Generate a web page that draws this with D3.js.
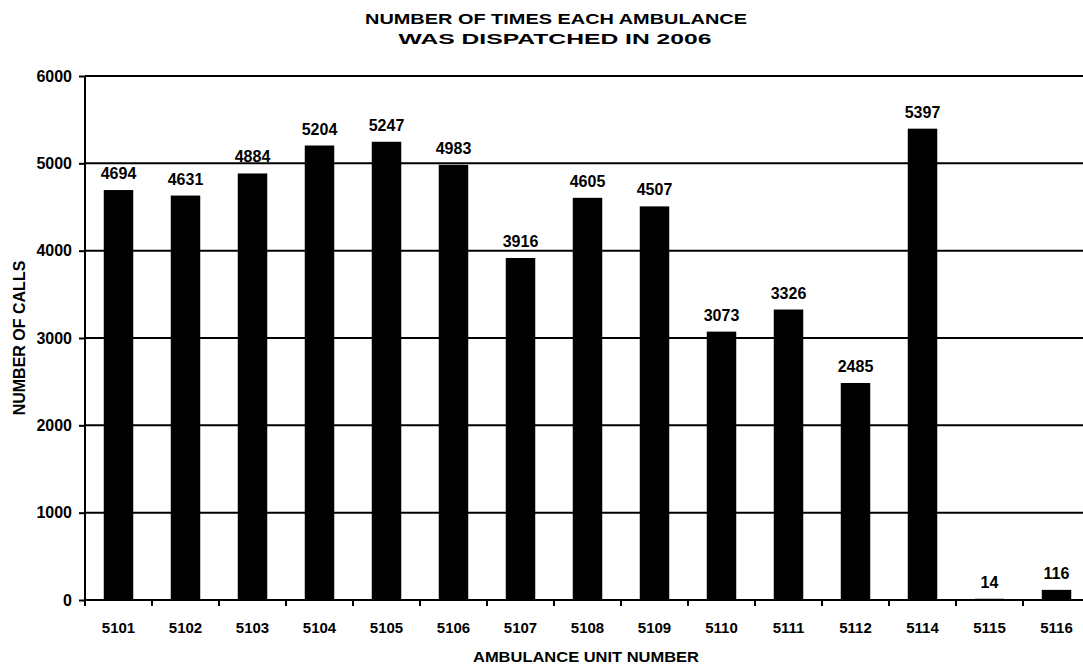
<!DOCTYPE html>
<html>
<head>
<meta charset="utf-8">
<script src="https://cdn.jsdelivr.net/npm/d3@7/dist/d3.min.js"></script>
<style>
  html, body { margin: 0; padding: 0; background: #fff; }
  svg { display: block; }
  text { font-family: "Liberation Sans", Arial, sans-serif; font-weight: bold; fill: #000; }
</style>
</head>
<body>
<svg id="chart" width="1083" height="666"></svg>
<script>
// Ambulance units and dispatch counts for 2006
const units = ["5101","5102","5103","5104","5105","5106","5107","5108","5109","5110","5111","5112","5114","5115","5116"];
const calls = [4694, 4631, 4884, 5204, 5247, 4983, 3916, 4605, 4507, 3073, 3326, 2485, 5397, 14, 116];
const yTicks = [0, 1000, 2000, 3000, 4000, 5000, 6000];

const svg = d3.select("#chart");
const plotLeft = 85, plotTop = 76, plotBottom = 600, plotRight = 1090;

const x = d3.scaleBand().domain(units).range([plotLeft, plotRight]).paddingInner(0.56).paddingOuter(0.28);
const y = d3.scaleLinear().domain([0, 6000]).range([plotBottom, plotTop]);

// Horizontal gridlines
svg.append("g").selectAll("line").data(yTicks.filter(d => d > 0)).join("line")
  .attr("x1", plotLeft).attr("x2", 1083)
  .attr("y1", d => y(d)).attr("y2", d => y(d))
  .attr("stroke", "#000").attr("stroke-width", 2);

// Bars
svg.append("g").selectAll("rect").data(units).join("rect")
  .attr("x", d => x(d))
  .attr("width", x.bandwidth())
  .attr("y", (d, i) => y(calls[i]))
  .attr("height", (d, i) => Math.max(plotBottom - y(calls[i]), 1.5))
  .attr("fill", "#000");

// Value labels
svg.append("g").selectAll("text").data(units).join("text")
  .attr("x", d => x(d) + x.bandwidth() / 2)
  .attr("y", (d, i) => y(calls[i]) - 11)
  .attr("text-anchor", "middle")
  .attr("font-size", 16)
  .text((d, i) => calls[i]);

// Y axis
const yAxis = d3.axisLeft(y).tickValues(yTicks).tickSize(6).tickPadding(7).tickFormat(d3.format("d"));
const gy = svg.append("g").attr("transform", `translate(${plotLeft},0)`).call(yAxis);
gy.select(".domain").attr("stroke", "#000").attr("stroke-width", 2).attr("d", `M0,${plotTop}V${plotBottom}`);
gy.selectAll(".tick line").attr("stroke", "#000").attr("stroke-width", 2);
gy.selectAll(".tick text").attr("font-size", 16)
  .style("font-family", "'Liberation Sans', Arial, sans-serif").style("font-weight", "bold").style("fill", "#000");

// X axis: tick marks at band boundaries
const gx = svg.append("g").attr("transform", `translate(0,${plotBottom})`);
gx.append("line").attr("x1", plotLeft).attr("x2", 1083).attr("y1", 0).attr("y2", 0)
  .attr("stroke", "#000").attr("stroke-width", 2);
const offset = x.paddingOuter() * x.step();
gx.selectAll("line.tk").data(units).join("line").attr("class", "tk")
  .attr("x1", d => x(d) - offset)
  .attr("x2", d => x(d) - offset)
  .attr("y1", 0).attr("y2", 6)
  .attr("stroke", "#000").attr("stroke-width", 2);
gx.selectAll("text").data(units).join("text")
  .attr("x", d => x(d) + x.bandwidth() / 2)
  .attr("y", 33)
  .attr("text-anchor", "middle")
  .attr("font-size", 15)
  .text(d => d);

// Titles
svg.append("text").attr("x", 556).attr("y", 24).attr("text-anchor", "middle").attr("font-size", 15.5)
  .attr("textLength", 382).attr("lengthAdjust", "spacingAndGlyphs")
  .text("NUMBER OF TIMES EACH AMBULANCE");
svg.append("text").attr("x", 555).attr("y", 44).attr("text-anchor", "middle").attr("font-size", 15.5)
  .attr("textLength", 313).attr("lengthAdjust", "spacingAndGlyphs")
  .text("WAS DISPATCHED IN 2006");
svg.append("text").attr("x", 586).attr("y", 662).attr("text-anchor", "middle").attr("font-size", 15.5)
  .attr("textLength", 226).attr("lengthAdjust", "spacingAndGlyphs")
  .text("AMBULANCE UNIT NUMBER");
svg.append("text").attr("transform", "translate(25,338) rotate(-90)").attr("text-anchor", "middle").attr("font-size", 16)
  .text("NUMBER OF CALLS");
</script>
</body>
</html>
